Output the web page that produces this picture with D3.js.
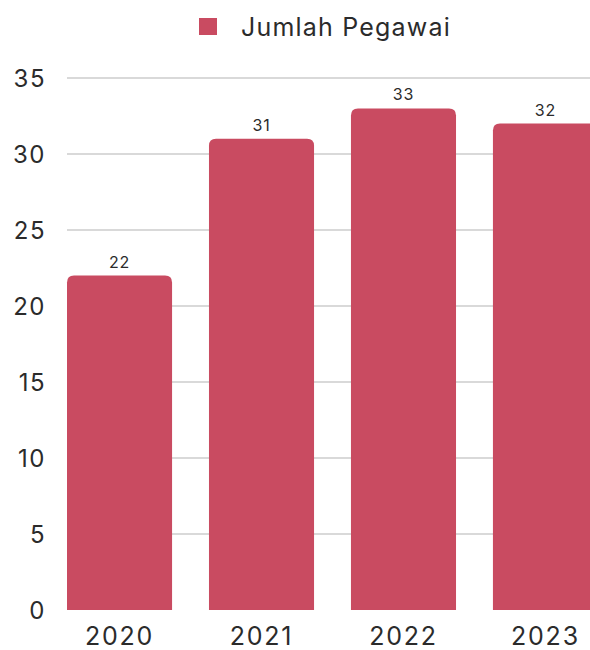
<!DOCTYPE html>
<html><head><meta charset="utf-8">
<script src="https://cdn.jsdelivr.net/npm/d3@7"></script>
<style>body{margin:0;background:#fff;} svg{display:block;}</style>
</head><body>
<svg id="c" width="590" height="650"></svg>
<script>
const categories = ["2020", "2021", "2022", "2023"];
const values = [22, 31, 33, 32];
const yTicks = [0, 5, 10, 15, 20, 25, 30, 35];
const seriesName = "Jumlah Pegawai";

const color = "#c94b61";
const font = "Inter, 'Open Sans', sans-serif";
const svg = d3.select("#c");
const x = d3.scaleBand().domain(categories).range([67, 598]).paddingInner(0.26).paddingOuter(0);
const y = d3.scaleLinear().domain([0, 35]).range([610, 78]);

// grid
svg.append("g").selectAll("line").data(yTicks.filter(d => d > 0)).join("line")
  .attr("x1", 67).attr("x2", 590).attr("y1", d => y(d)).attr("y2", d => y(d))
  .attr("stroke", "#cccccc").attr("stroke-width", 1.5);

// y labels
svg.append("g").selectAll("text").data(yTicks).join("text")
  .attr("x", 46).attr("y", d => y(d)).attr("dy", "0.36em").attr("text-anchor", "end")
  .attr("font-family", font).attr("font-size", 24).attr("letter-spacing", 1.5).attr("fill", "#2b2b2b").text(d => d);

// bars with rounded top
const r = 7;
svg.append("g").selectAll("path").data(values).join("path")
  .attr("fill", color)
  .attr("d", (d, i) => {
    const x0 = x(categories[i]), w = x.bandwidth(), y0 = y(d), yb = y(0);
    return `M${x0},${yb}V${y0 + r}Q${x0},${y0} ${x0 + r},${y0}H${x0 + w - r}Q${x0 + w},${y0} ${x0 + w},${y0 + r}V${yb}Z`;
  });

// value labels
svg.append("g").selectAll("text").data(values).join("text")
  .attr("x", (d, i) => x(categories[i]) + x.bandwidth() / 2).attr("y", d => y(d) - 8)
  .attr("text-anchor", "middle").attr("font-family", font).attr("font-size", 16).attr("letter-spacing", 0.8).attr("fill", "#2b2b2b")
  .text(d => d);

// x labels
svg.append("g").selectAll("text").data(categories).join("text")
  .attr("x", d => x(d) + x.bandwidth() / 2).attr("y", 636).attr("dy", "0.36em")
  .attr("text-anchor", "middle").attr("font-family", font).attr("font-size", 25).attr("letter-spacing", 1.8).attr("fill", "#2b2b2b")
  .text(d => d);

// legend
svg.append("rect").attr("x", 199).attr("y", 18).attr("width", 18).attr("height", 17).attr("fill", color);
svg.append("text").attr("x", 241).attr("y", 27).attr("dy", "0.36em")
  .attr("font-family", font).attr("font-size", 25).attr("letter-spacing", 1.2).attr("fill", "#2b2b2b").text(seriesName);
</script>
</body></html>
